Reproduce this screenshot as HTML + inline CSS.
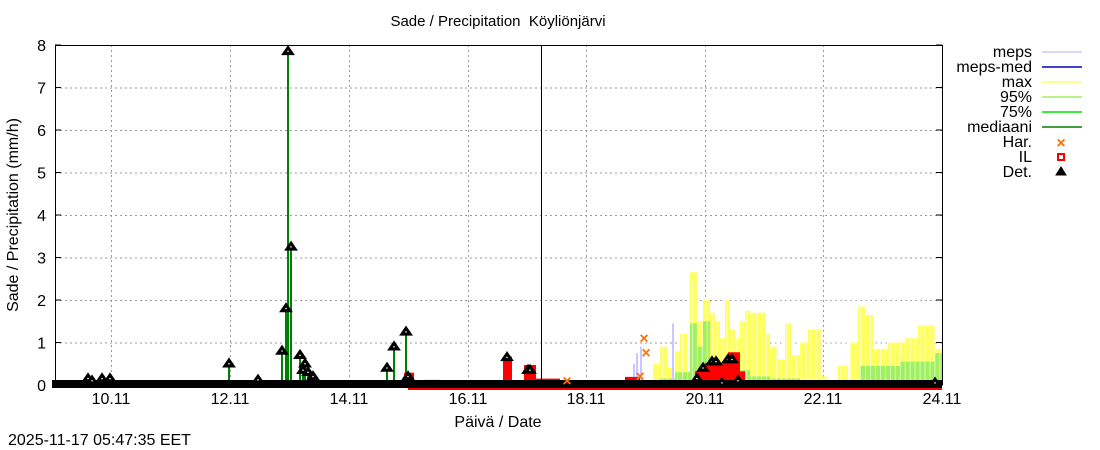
<!DOCTYPE html>
<html><head><meta charset="utf-8"><style>
body{margin:0;background:#fff;}
svg{display:block;font-family:"Liberation Sans",sans-serif;}
</style></head><body>
<svg id="s" width="1100" height="450" xmlns="http://www.w3.org/2000/svg">
<rect width="1100" height="450" fill="#fff"/>
<g id="grid" stroke="#999" stroke-dasharray="2,3" stroke-width="1"></g>
<g id="bars"></g>
<g id="stems" stroke="#008000" stroke-width="2"></g>
<g id="marks"></g>
<line x1="541.5" y1="45" x2="541.5" y2="385" stroke="#000" stroke-width="1"/>
<rect x="55.5" y="45.5" width="887" height="339.5" fill="none" stroke="#000"/>
<g id="ticks" font-size="16" fill="#000"></g>
<text x="498" y="26" font-size="15" text-anchor="middle" style="white-space:pre">Sade / Precipitation  Köyliönjärvi</text>
<text x="498" y="427" font-size="16" text-anchor="middle">Päivä / Date</text>
<text transform="translate(18,215) rotate(-90)" font-size="16" text-anchor="middle">Sade / Precipitation (mm/h)</text>
<text x="8" y="445" font-size="16">2025-11-17 05:47:35 EET</text>
<g font-size="16" text-anchor="end">
<text x="1032" y="57">meps</text><line x1="1042" y1="52" x2="1082" y2="52" stroke="#c8c8ff" stroke-width="1.5"/>
<text x="1032" y="72">meps-med</text><line x1="1042" y1="67" x2="1082" y2="67" stroke="#0000c0" stroke-width="1.5"/>
<text x="1032" y="87">max</text><line x1="1042" y1="82" x2="1082" y2="82" stroke="#ffff60" stroke-width="1.5"/>
<text x="1032" y="102">95%</text><line x1="1042" y1="97" x2="1082" y2="97" stroke="#a0f060" stroke-width="1.5"/>
<text x="1032" y="117">75%</text><line x1="1042" y1="112" x2="1082" y2="112" stroke="#00e000" stroke-width="1.5"/>
<text x="1032" y="132">mediaani</text><line x1="1042" y1="127" x2="1082" y2="127" stroke="#008000" stroke-width="1.5"/>
<text x="1032" y="147">Har.</text><text x="1061" y="148" font-size="16" fill="#ff7000" text-anchor="middle" font-weight="bold">×</text>
<text x="1032" y="162">IL</text><rect x="1058" y="154" width="6" height="6" fill="none" stroke="#f00" stroke-width="2"/>
<text x="1032" y="177">Det.</text><polygon points="1061,167 1056,175 1066,175" fill="#000" stroke="#000" stroke-width="1"/>
</g>
</svg>
<script>
const NS="http://www.w3.org/2000/svg";
function el(p,t,a,txt){const e=document.createElementNS(NS,t);for(const k in a)e.setAttribute(k,a[k]);if(txt!==undefined)e.textContent=txt;document.getElementById(p).appendChild(e);return e;}
const Y=v=>385-v*42.5;
for(let i=1;i<8;i++){el('grid','line',{x1:55,x2:942,y1:Y(i)+.5,y2:Y(i)+.5});}
const xt=[[111,'10.11'],[230,'12.11'],[349,'14.11'],[468,'16.11'],[586,'18.11'],[705,'20.11'],[823,'22.11'],[942,'24.11']];
xt.forEach(([x,l])=>{el('grid','line',{x1:x+.5,x2:x+.5,y1:45,y2:385});el('ticks','text',{x:x,y:404,'text-anchor':'middle'},l);});
for(let i=0;i<=8;i++){el('ticks','text',{x:46,y:Y(i)+6,'text-anchor':'end'},String(i));el('ticks','line',{x1:55,x2:61,y1:Y(i),y2:Y(i),stroke:'#000'});el('ticks','line',{x1:936,x2:942,y1:Y(i),y2:Y(i),stroke:'#000'});}
const yb=[[630,640,.1],[653,660,.5],[660,667,.9],[667,672,.4],[675,680,.8],[680,688,1.2],[690,697,2.65],[697,703,1.5],[703,710,2.0],[710,715,1.7],[715,720,1.5],[720,725,1.1],[725,730,2.0],[730,735,1.3],[735,740,1.1],[740,745,1.5],[745,750,1.75],[750,765,1.7],[765,770,1.2],[770,778,.9],[778,785,.6],[785,792,1.45],[792,800,.7],[800,808,1.0],[808,822,1.3],[822,828,.2],[838,848,.45],[850,858,1.0],[858,865,1.85],[865,873,1.65],[873,888,.85],[888,905,1.0],[905,918,1.1],[918,935,1.4],[935,942,.85]];
yb.forEach(([a,b,v])=>el('bars','rect',{x:a,y:Y(v),width:b-a,height:v*42.5,fill:'#ffff60'}));
const gb=[[660,675,.15],[675,690,.3],[690,697,1.45],[697,703,.9],[703,710,1.5],[710,720,.6],[720,740,.5],[740,750,.35],[750,770,.2],[770,800,.15],[860,900,.45],[900,935,.55],[935,942,.75]];
gb.forEach(([a,b,v])=>el('bars','rect',{x:a,y:Y(v),width:b-a,height:v*42.5,fill:'#a0f060'}));
for(let x=628;x<942;x+=4.95){el('bars','line',{x1:x,x2:x,y1:280,y2:385,stroke:'#fff','stroke-width':0.8,'stroke-opacity':0.7});}
[[634,.5],[637,.75],[641,.9],[673,1.45]].forEach(([x,v])=>el('bars','line',{x1:x,x2:x,y1:Y(v),y2:385,stroke:'#c8c8ff','stroke-width':2}));
const det=[[88,.15],[92,.1],[102,.15],[110,.15],[229,.5],[258,.12],[282,.8],[286,1.8],[288,7.85],[291,3.25],[300,.7],[303,.35],[305,.5],[308,.3],[313,.2],[387,.4],[394,.9],[406,1.25],[408,.2],[507,.65],[528,.35],[530,.35]];
det.forEach(([x,v])=>el('stems','line',{x1:x,x2:x,y1:Y(v),y2:385}));
el('marks','rect',{x:408,y:384,width:534,height:6,fill:'#f00'});
[[404,414,.22],[425,440,.05],[503,512,.6],[524,536,.4],[535,560,.08],[625,640,.12],[695,745,.25],[705,740,.45],[728,740,.7]].forEach(([a,b,v])=>el('marks','rect',{x:a,y:Y(v)-3,width:b-a,height:v*42.5+3,fill:'#f00'}));
el('marks','rect',{x:52,y:380,width:890,height:8,fill:'#000'});
el('marks','line',{x1:55,x2:942,y1:385,y2:385,stroke:'#fff','stroke-dasharray':'2,2'});
const tri=det.concat([[697,.15],[703,.4],[712,.55],[716,.55],[728,.6],[732,.6],[722,.05],[738,.1],[935,.05]]);
tri.forEach(([x,v])=>{const y=Y(v);el('marks','polygon',{points:`${x},${y-5} ${x-5.5},${y+3} ${x+5.5},${y+3}`,fill:'#000',stroke:'#000','stroke-width':1.5});el('marks','circle',{cx:x,cy:y,r:.8,fill:'#fff'});});
[[644,1.1],[646,.75],[640,.2],[567,.1]].forEach(([x,v])=>el('marks','text',{x:x,y:Y(v)+5,'font-size':16,'font-weight':'bold',fill:'#ff7000','text-anchor':'middle'},'×'));
</script>
</body></html>
